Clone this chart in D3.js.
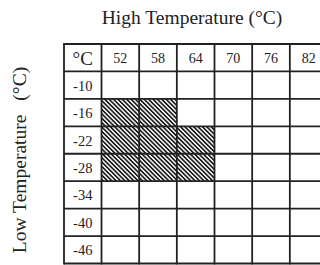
<!DOCTYPE html>
<html>
<head>
<meta charset="utf-8">
<script src="https://cdn.jsdelivr.net/npm/d3@7"></script>
<style>
  body { margin: 0; background: #fff; }
  svg { display: block; }
</style>
</head>
<body>
<div id="chart"></div>
<script>
// data
const highTemps = [52, 58, 64, 70, 76, 82];
const lowTemps = [-10, -16, -22, -28, -34, -40, -46];
// hatched cells: [low, high]
const hatchedCells = [
  [-16, 52], [-16, 58],
  [-22, 52], [-22, 58], [-22, 64],
  [-28, 52], [-28, 58], [-28, 64]
];
const cornerLabel = "°C";
const titleText = "High Temperature (°C)";
const yTitleMain = "Low Temperature";
const yTitleUnit = "(°C)";

const width = 320, height = 265;
const font = "'Liberation Serif', 'DejaVu Serif', serif";

const svg = d3.select("#chart").append("svg")
  .attr("width", width)
  .attr("height", height);

const defs = svg.append("defs");
defs.append("pattern")
  .attr("id", "hatch")
  .attr("patternUnits", "userSpaceOnUse")
  .attr("width", 3.1)
  .attr("height", 10)
  .attr("patternTransform", "rotate(-45)")
  .call(p => {
    p.append("rect").attr("width", 3.1).attr("height", 10).attr("fill", "#f4f4f4");
    p.append("line")
      .attr("x1", 0.8).attr("y1", 0).attr("x2", 0.8).attr("y2", 10)
      .attr("stroke", "#1a1a1a").attr("stroke-width", 1.6);
  });

// scales
const rowKeys = ["head"].concat(lowTemps);
const y = d3.scaleBand().domain(rowKeys).range([44, 263.5]);
const x = d3.scaleBand().domain(highTemps).range([101.5, 327.5]);
const x0 = 64, x1 = 101.5;

// hatched cells
svg.append("g").selectAll("rect")
  .data(hatchedCells)
  .enter()
  .append("rect")
  .attr("x", d => x(d[1]))
  .attr("y", d => y(d[0]))
  .attr("width", x.bandwidth())
  .attr("height", y.bandwidth())
  .attr("fill", "url(#hatch)");

// grid lines
const grid = svg.append("g")
  .attr("stroke", "#222")
  .attr("stroke-width", 1.8);

const hLines = rowKeys.map(k => y(k)).concat([y.range()[1]]);
grid.selectAll(".h")
  .data(hLines)
  .enter()
  .append("line")
  .attr("x1", x0).attr("x2", width + 10)
  .attr("y1", d => d).attr("y2", d => d);

const vLines = [x0, x1].concat(highTemps.map(h => x(h) + x.bandwidth()));
grid.selectAll(".v")
  .data(vLines)
  .enter()
  .append("line")
  .attr("x1", d => d).attr("x2", d => d)
  .attr("y1", y.range()[0] - 0.9).attr("y2", y.range()[1] + 0.9);

// column labels
svg.append("g").selectAll("text")
  .data(highTemps)
  .enter()
  .append("text")
  .attr("x", d => x(d) + x.bandwidth() / 2)
  .attr("y", y("head") + y.bandwidth() / 2 + 5.5)
  .attr("text-anchor", "middle")
  .attr("font-family", font)
  .attr("font-size", 14)
  .attr("fill", "#222")
  .text(d => d);

// row labels
svg.append("g").selectAll("text")
  .data(lowTemps)
  .enter()
  .append("text")
  .attr("x", (x0 + x1) / 2)
  .attr("y", d => y(d) + y.bandwidth() / 2 + 5.5)
  .attr("text-anchor", "middle")
  .attr("font-family", font)
  .attr("font-size", 14.5)
  .attr("fill", "#222")
  .text(d => d);

svg.append("text")
  .attr("x", (x0 + x1) / 2)
  .attr("y", y("head") + y.bandwidth() / 2 + 7)
  .attr("text-anchor", "middle")
  .attr("font-family", font)
  .attr("font-size", 19)
  .attr("fill", "#222")
  .text(cornerLabel);

// titles
svg.append("text")
  .attr("x", 192)
  .attr("y", 24)
  .attr("text-anchor", "middle")
  .attr("font-family", font)
  .attr("font-size", 19.5)
  .attr("fill", "#222")
  .text(titleText);

const yTitle = svg.append("text")
  .attr("transform", "translate(26," + 160 + ") rotate(-90)")
  .attr("text-anchor", "middle")
  .attr("font-family", font)
  .attr("font-size", 19.5)
  .attr("fill", "#222");
yTitle.append("tspan").text(yTitleMain);
yTitle.append("tspan").attr("dx", 14).text(yTitleUnit);
</script>
</body>
</html>
